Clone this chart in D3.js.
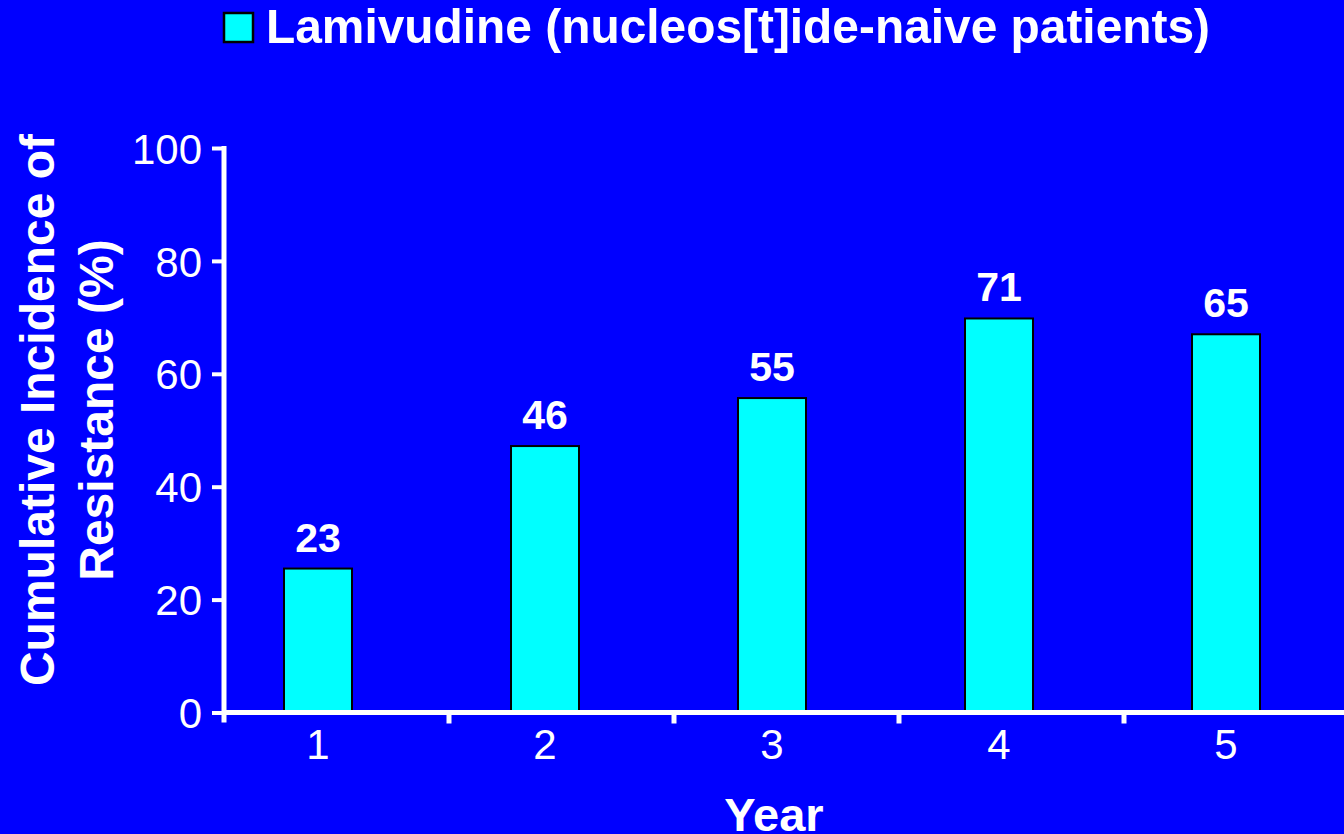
<!DOCTYPE html>
<html><head><meta charset="utf-8">
<script src="https://cdn.jsdelivr.net/npm/d3@7"></script>
<style>html,body{margin:0;padding:0;background:#0000FF;overflow:hidden}svg{display:block}text{font-family:"Liberation Sans",Arial,sans-serif;fill:#fff}</style>
</head><body><svg id="c" width="1344" height="834"></svg>
<script>
const categories = ["1","2","3","4","5"];
const barValues = [25.5, 47.2, 55.7, 69.8, 67.0];
const barLabels = ["23","46","55","71","65"];
const yTicks = [0,20,40,60,80,100];
const seriesName = "Lamivudine (nucleos[t]ide-naive patients)";
const xTitle = "Year";
const yTitleLines = ["Cumulative Incidence of","Resistance (%)"];

const svg = d3.select("#c");
svg.append("rect").attr("width",1344).attr("height",834).attr("fill","#0000FF");

// axis bands (tick marks at band boundaries)
const x = d3.scaleBand().domain(categories).range([224,1349]);
// bar / label centres
const xc = d3.scalePoint().domain(categories).range([318,1226]);
const y = d3.scaleLinear().domain([0,100]).range([712.5,148]);
const bw = 68;

// bars
svg.selectAll("rect.bar").data(categories).enter().append("rect")
  .attr("class","bar")
  .attr("x",c=>xc(c)-bw/2)
  .attr("y",(c,i)=>y(barValues[i]))
  .attr("width",bw)
  .attr("height",(c,i)=>y(0)-y(barValues[i]))
  .attr("fill","#00FFFF").attr("stroke","#000").attr("stroke-width",2);

// value labels
svg.selectAll("text.val").data(categories).enter().append("text")
  .attr("class","val")
  .attr("x",c=>xc(c))
  .attr("y",(c,i)=>y(barValues[i])-17)
  .attr("text-anchor","middle").attr("font-size",41).attr("font-weight","bold")
  .text((c,i)=>barLabels[i]);

// y axis
const yAxis = d3.axisLeft(y).tickValues(yTicks).tickSize(12).tickPadding(10);
const gy = svg.append("g").attr("transform","translate(224,0)").call(yAxis);
gy.select(".domain").remove();
gy.selectAll(".tick line").attr("stroke","#fff").attr("stroke-width",4);
gy.selectAll(".tick text").attr("font-size",42).attr("fill","#fff").attr("dy","0.36em")
  .style("font-family",'"Liberation Sans",Arial,sans-serif');
svg.append("line").attr("x1",224).attr("x2",224).attr("y1",y(100)-2).attr("y2",y(0)+10)
  .attr("stroke","#fff").attr("stroke-width",5);

// x axis
svg.append("line").attr("x1",222).attr("x2",1344).attr("y1",y(0)).attr("y2",y(0))
  .attr("stroke","#fff").attr("stroke-width",5);
svg.selectAll("line.xt").data(categories.slice(1)).enter().append("line")
  .attr("class","xt")
  .attr("x1",c=>x(c)).attr("x2",c=>x(c)).attr("y1",y(0)).attr("y2",y(0)+11)
  .attr("stroke","#fff").attr("stroke-width",5);
svg.selectAll("text.xl").data(categories).enter().append("text")
  .attr("class","xl")
  .attr("x",c=>xc(c)).attr("y",759)
  .attr("text-anchor","middle").attr("font-size",42)
  .text(c=>c);

// titles
svg.append("text").attr("x",774).attr("y",831).attr("text-anchor","middle")
  .attr("font-size",47).attr("font-weight","bold").text(xTitle);
const yt = svg.append("g").attr("transform","translate(0,410) rotate(-90)");
yTitleLines.forEach((t,i)=>{
  yt.append("text").attr("x",0).attr("y",54+i*59).attr("text-anchor","middle")
    .attr("font-size",48).attr("font-weight","bold").text(t);
});

// legend
svg.append("rect").attr("x",224).attr("y",13).attr("width",29).attr("height",29)
  .attr("fill","#00FFFF").attr("stroke","#000").attr("stroke-width",2.5);
svg.append("text").attr("x",266).attr("y",43).attr("font-size",49).attr("font-weight","bold")
  .attr("textLength",944).attr("lengthAdjust","spacingAndGlyphs")
  .text(seriesName);
</script></body></html>
